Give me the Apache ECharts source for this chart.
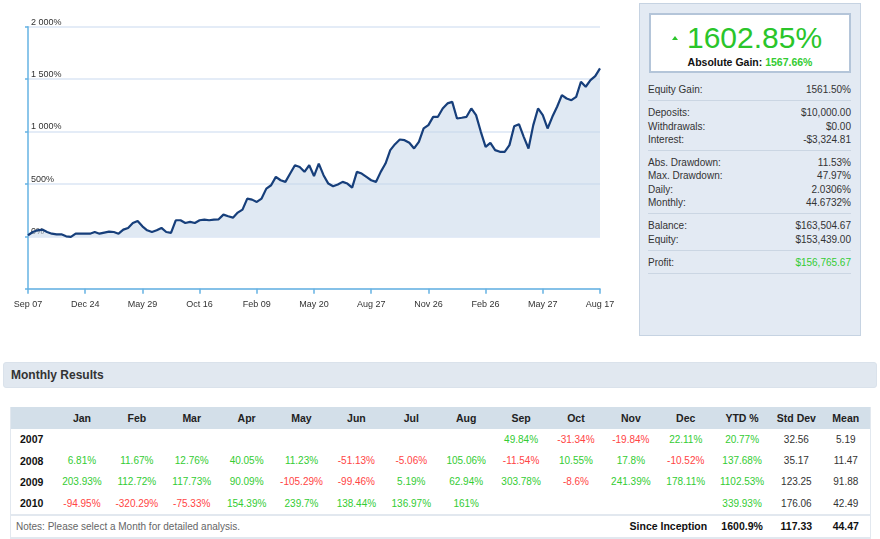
<!DOCTYPE html>
<html lang="en">
<head>
  <meta charset="UTF-8">
  <title>Account growth</title>
  <script src="https://cdn.jsdelivr.net/npm/echarts@6/dist/echarts.min.js"></script>
  <style>
    body {
      margin: 0;
      width: 880px;
      height: 539px;
      overflow: hidden;
      background: #fff;
      font-family: "Liberation Sans", Arial, sans-serif;
      color: #333;
      position: relative;
    }
    #main { position: absolute; left: 0; top: 0; width: 625px; height: 330px; }
    #panel {
      position: absolute; left: 639px; top: 3px; width: 222px; height: 333px;
      box-sizing: border-box; background: #e3eaf3; border: 1px solid #c6d3e2;
    }
    #gainBox {
      position: absolute; left: 649px; top: 13px; width: 202px; height: 60px;
      box-sizing: border-box; background: #fff; border: 2px solid #b4c5d9;
    }
    #bigGain {
      position: absolute; left: 687px; top: 23px; font-size: 30px; line-height: 30px;
      color: #2ac52a; white-space: nowrap;
    }
    #arrow {
      position: absolute; left: 672px; top: 36px; width: 0; height: 0;
      border-left: 3px solid transparent; border-right: 3px solid transparent;
      border-bottom: 4px solid #2ac52a;
    }
    #absGain {
      position: absolute; left: 649px; top: 56px; width: 202px; text-align: center;
      font-size: 10.5px; font-weight: bold; color: #111; white-space: nowrap;
    }
    #absGain span { color: #3c3; }
    #stats { position: absolute; left: 648px; top: 78px; width: 203px; font-size: 10px; }
    .grp { padding: 5px 0 4px; border-bottom: 1.5px solid #cbd6e3; }
    .row { height: 13.3px; line-height: 13.3px; position: relative; }
    .row .v { position: absolute; right: 0; top: 0; }
    .green { color: #3c3; }
    .red { color: #f44; }
    #mrBar {
      position: absolute; left: 3px; top: 362px; width: 874px; height: 26px;
      box-sizing: border-box; background: #e1e8f0; border: 1px solid #dae2eb; border-radius: 3px;
      font-size: 12px; font-weight: bold; line-height: 24px; padding-left: 7px; color: #333;
    }
    #monthly {
      position: absolute; left: 10px; top: 407px; width: 860px;
      border-collapse: collapse; table-layout: fixed; font-size: 10px;
      border-left: 1px solid #e2e8ef; border-right: 1px solid #e2e8ef; border-bottom: 2px solid #e2e8ef;
    }
    #monthly th { background: #d3dfe9; height: 21.7px; font-size: 10.5px; font-weight: bold; padding: 0; color: #222; }
    #monthly td { height: 21.3px; padding: 0; text-align: center; }
    #monthly td.yr { text-align: left; padding-left: 9px; font-weight: bold; font-size: 10.5px; color: #111; }
    #monthly tr.notes td { border-top: 2px solid #e2e8ef; height: 21px; }
    #monthly td.note { text-align: left; padding-left: 5px; color: #666; }
    #monthly td.since { text-align: right; padding-right: 6px; font-weight: bold; font-size: 10.5px; color: #111; }
    #monthly td.b { font-weight: bold; font-size: 10.5px; color: #111; }
  </style>
</head>
<body>
  <div id="main"></div>

  <div id="panel"></div>
  <div id="gainBox"></div>
  <div id="arrow"></div>
  <div id="bigGain"></div>
  <div id="absGain"></div>
  <div id="stats"></div>

  <div id="mrBar">Monthly Results</div>
  <table id="monthly"></table>

  <script>
    // ---- 图表数据 ----
    var tickLabels = ['Sep 07', 'Dec 24', 'May 29', 'Oct 16', 'Feb 09', 'May 20', 'Aug 27', 'Nov 26', 'Feb 26', 'May 27', 'Aug 17'];
    var pointsPerTick = 12;
    // 累计收益 %
    var growth = [
      10, 41, 57, 64, 41, 25, 19, 19, 0, -6, 25, 25,
      25, 25, 41, 25, 35, 45, 41, 25, 64, 80, 127, 146,
      95, 57, 41, 57, 80, 41, 32, 153, 153, 127, 137, 127,
      153, 159, 153, 159, 162, 207, 191, 178, 226, 255, 360, 350,
      328, 360, 455, 487, 567, 535, 519, 599, 678, 662, 615, 678,
      575, 694, 583, 503, 478, 494, 519, 503, 465, 615, 599, 567,
      535, 519, 615, 694, 822, 879, 924, 917, 892, 838, 901, 1029,
      1061, 1140, 1140, 1220, 1268, 1283, 1124, 1131, 1140, 1220, 1156, 997,
      854, 892, 822, 806, 806, 870, 1051, 1070, 949, 838, 1061, 1220,
      1156, 1029, 1140, 1236, 1347, 1315, 1299, 1331, 1475, 1427, 1490, 1529,
      1602.85
    ];
    var yTicks = [-500, 2000, 500]; // min, max, interval

    // ---- 统计面板 ----
    var gainValue = '1602.85%';
    var absGainValue = '1567.66%';
    var statGroups = [
      [['Equity Gain:', '1561.50%']],
      [['Deposits:', '$10,000.00'], ['Withdrawals:', '$0.00'], ['Interest:', '-$3,324.81']],
      [['Abs. Drawdown:', '11.53%'], ['Max. Drawdown:', '47.97%'], ['Daily:', '2.0306%'], ['Monthly:', '44.6732%']],
      [['Balance:', '$163,504.67'], ['Equity:', '$153,439.00']],
      [['Profit:', '$156,765.67', 'green']]
    ];

    // ---- 月度结果 ----
    var months = ['Jan', 'Feb', 'Mar', 'Apr', 'May', 'Jun', 'Jul', 'Aug', 'Sep', 'Oct', 'Nov', 'Dec'];
    var years = ['2007', '2008', '2009', '2010'];
    var m2007 = [null, null, null, null, null, null, null, null, 49.84, -31.34, -19.84, 22.11];
    var m2008 = [6.81, 11.67, 12.76, 40.05, 11.23, -51.13, -5.06, 105.06, -11.54, 10.55, 17.8, -10.52];
    var m2009 = [203.93, 112.72, 117.73, 90.09, -105.29, -99.46, 5.19, 62.94, 303.78, -8.6, 241.39, 178.11];
    var m2010 = [-94.95, -320.29, -75.33, 154.39, 239.7, 138.44, 136.97, 161, null, null, null, null];
    var ytd = [20.77, 137.68, 1102.53, 339.93];
    var stdDev = [32.56, 35.17, 123.25, 176.06];
    var meanVals = [5.19, 11.47, 91.88, 42.49];
    var sinceInception = [1600.9, 117.33, 44.47];

    // 渲染图
    var myChart = echarts.init(document.getElementById('main'));
    var cats = growth.map(function (v, i) { return String(i); });

    function fmtPct(v) {
      if (v < 0) return '';
      var s = String(v);
      if (v >= 1000) s = s.slice(0, s.length - 3) + ' ' + s.slice(-3);
      return s + '%';
    }

    myChart.setOption({
      animation: false,
      grid: { left: 28, top: 26.7, width: 572, height: 262, outerBoundsMode: 'none' },
      xAxis: {
        type: 'category',
        data: cats,
        boundaryGap: false,
        axisLine: { onZero: false, lineStyle: { color: '#66b3e3', width: 1.5 } },
        axisTick: { interval: pointsPerTick - 1, length: 5, lineStyle: { color: '#66b3e3', width: 1.5 } },
        axisLabel: {
          interval: pointsPerTick - 1,
          margin: 11,
          fontSize: 9,
          color: '#333',
          fontFamily: 'Liberation Sans',
          formatter: function (v, i) { return tickLabels[Math.round(i / pointsPerTick)]; }
        },
        splitLine: { show: false }
      },
      yAxis: {
        type: 'value',
        min: yTicks[0],
        max: yTicks[1],
        interval: yTicks[2],
        axisLine: { show: true, lineStyle: { color: '#66b3e3', width: 1.5 } },
        axisTick: { show: true, length: 3, lineStyle: { color: '#66b3e3', width: 1.5 } },
        axisLabel: {
          inside: true,
          margin: 3,
          align: 'left',
          verticalAlign: 'bottom',
          fontSize: 9,
          color: '#333',
          fontFamily: 'Liberation Sans',
          formatter: fmtPct
        },
        splitLine: { lineStyle: { color: '#dbe6f5', width: 1.5 } }
      },
      series: [{
        type: 'line',
        data: growth,
        symbol: 'none',
        lineStyle: { color: '#173f7b', width: 2.2 },
        areaStyle: { color: '#c2d3e8', opacity: 0.5 }
      }]
    });

    // 面板
    document.getElementById('bigGain').textContent = gainValue;
    document.getElementById('absGain').innerHTML = 'Absolute Gain: <span>' + absGainValue + '</span>';
    var statsHtml = '';
    statGroups.forEach(function (g) {
      statsHtml += '<div class="grp">';
      g.forEach(function (r) {
        statsHtml += '<div class="row">' + r[0] + '<span class="v ' + (r[2] || '') + '">' + r[1] + '</span></div>';
      });
      statsHtml += '</div>';
    });
    document.getElementById('stats').innerHTML = statsHtml;

    // 表格
    var colW = [44].concat(months.map(function () { return 54.9; }), [57.8, 50.8, 48.5]);
    var html = '<colgroup>' + colW.map(function (w) { return '<col style="width:' + w + 'px">'; }).join('') + '</colgroup>';
    html += '<tr><th></th>' + months.map(function (m) { return '<th>' + m + '</th>'; }).join('') +
      '<th>YTD %</th><th>Std Dev</th><th>Mean</th></tr>';
    var rows = [m2007, m2008, m2009, m2010];
    function pctCell(v) {
      if (v === null) return '<td></td>';
      return '<td class="' + (v < 0 ? 'red' : 'green') + '">' + v + '%</td>';
    }
    rows.forEach(function (r, i) {
      html += '<tr><td class="yr">' + years[i] + '</td>' + r.map(pctCell).join('') +
        pctCell(ytd[i]) + '<td>' + stdDev[i] + '</td><td>' + meanVals[i] + '</td></tr>';
    });
    html += '<tr class="notes"><td class="note" colspan="7">Notes: Please select a Month for detailed analysis.</td>' +
      '<td class="since" colspan="6">Since Inception</td>' +
      '<td class="green b">' + sinceInception[0] + '%</td><td class="b">' + sinceInception[1] + '</td><td class="b">' + sinceInception[2] + '</td></tr>';
    document.getElementById('monthly').innerHTML = html;
  </script>
</body>
</html>
